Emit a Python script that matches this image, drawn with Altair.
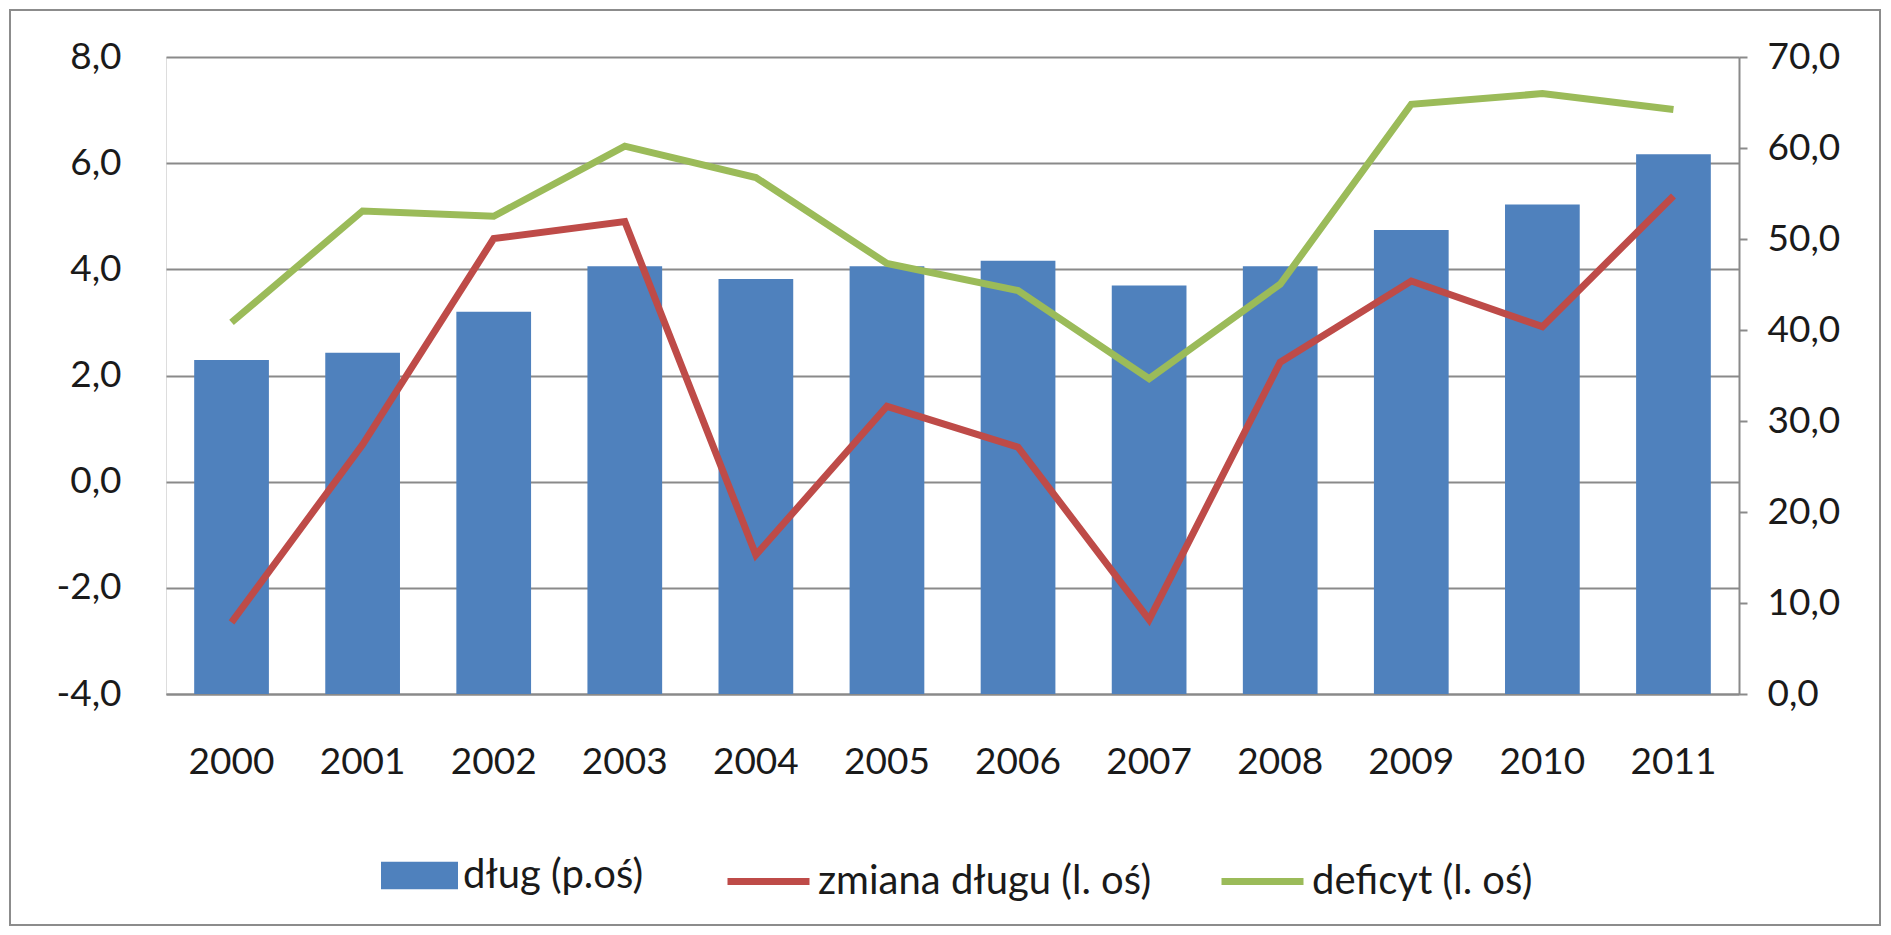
import altair as alt
import pandas as pd

years = [str(y) for y in range(2000, 2012)]
dlug = [36.7, 37.5, 42.0, 47.0, 45.6, 47.0, 47.6, 44.9, 47.0, 51.0, 53.8, 59.3]
zmiana = [-2.65, 0.7, 4.58, 4.9, -1.38, 1.42, 0.65, -2.6, 2.25, 3.78, 2.92, 5.38]
deficyt = [3.0, 5.1, 5.0, 6.32, 5.73, 4.11, 3.6, 1.94, 3.72, 7.11, 7.31, 7.01]

left_ticks = [-4, -2, 0, 2, 4, 6, 8]
right_ticks = [0, 10, 20, 30, 40, 50, 60, 70]

lab_dlug = "dług (p.oś)"
lab_zm = "zmiana długu (l. oś)"
lab_def = "deficyt (l. oś)"

df = pd.DataFrame({"rok": years, "dlug": dlug, "zmiana": zmiana, "deficyt": deficyt})

FONT = "Lato"
FS = 37
LFS = 40
TXT = "#1a1a1a"
GRID = "#8a8a8a"
BLUE = "#4F81BD"
RED = "#BE4B48"
GREEN = "#9BBB59"
LBL = "replace(replace(format(datum.value, '.1f'), '.', ','), '\u2212', '-')"

W, H = 1573, 637
LEG_Y = 780

xenc = alt.X(
    "rok:N", sort=years,
    scale=alt.Scale(paddingInner=0.43, paddingOuter=0.215),
    axis=alt.Axis(title=None, labelAngle=0, labelFont=FONT, labelFontSize=FS,
                  labelColor=TXT, labelPadding=50, ticks=False,
                  domainColor=GRID, domainWidth=2, grid=False),
)

bars = alt.Chart(df).transform_calculate(s=f"'{lab_dlug}'").mark_bar(color=BLUE).encode(
    x=xenc,
    y=alt.Y("dlug:Q", scale=alt.Scale(domain=[0, 70], nice=False, zero=True),
            axis=alt.Axis(orient="right", values=right_ticks, grid=False, title=None,
                          labelExpr=LBL, labelFont=FONT, labelFontSize=FS, labelColor=TXT,
                          tickSize=8, tickColor=GRID, tickWidth=2, domainColor=GRID,
                          domainWidth=2, labelPadding=20)),
    fill=alt.Fill("s:N", scale=alt.Scale(domain=[lab_dlug], range=[BLUE]),
                  legend=alt.Legend(orient="none", legendX=215, legendY=LEG_Y, title=None,
                                    direction="horizontal", padding=0, labelLimit=0,
                                    symbolType="M-1,-0.36L1,-0.36L1,0.36L-1,0.36Z",
                                    symbolSize=5929, symbolStrokeWidth=0, symbolOpacity=1,
                                    labelFont=FONT, labelFontSize=LFS, labelColor=TXT,
                                    labelOffset=5)),
)

yscale = alt.Scale(domain=[-4, 8], nice=False, zero=False)
yaxis = alt.Axis(orient="left", values=left_ticks, grid=True, gridColor=GRID, gridWidth=2,
                 ticks=False, domain=False, title=None, labelExpr=LBL, labelFont=FONT,
                 labelFontSize=FS, labelColor=TXT, labelPadding=45)

red = alt.Chart(df).transform_calculate(s=f"'{lab_zm}'").mark_line(strokeWidth=7).encode(
    x=xenc,
    y=alt.Y("zmiana:Q", scale=yscale, axis=yaxis),
    stroke=alt.Stroke("s:N", scale=alt.Scale(domain=[lab_zm], range=[RED]),
                      legend=alt.Legend(orient="none", legendX=558, legendY=LEG_Y, title=None,
                                        direction="horizontal", padding=0, labelLimit=0,
                                        symbolType="stroke", symbolSize=6724,
                                        symbolStrokeWidth=7, labelFont=FONT,
                                        labelFontSize=LFS, labelColor=TXT, labelOffset=5)),
)

green = alt.Chart(df).transform_calculate(s=f"'{lab_def}'").mark_line(strokeWidth=7).encode(
    x=xenc,
    y=alt.Y("deficyt:Q", scale=yscale, axis=yaxis),
    color=alt.Color("s:N", scale=alt.Scale(domain=[lab_def], range=[GREEN]),
                    legend=alt.Legend(orient="none", legendX=1052, legendY=LEG_Y, title=None,
                                      direction="horizontal", padding=0, labelLimit=0,
                                      symbolType="stroke", symbolSize=6724,
                                      symbolStrokeWidth=7, labelFont=FONT,
                                      labelFontSize=LFS, labelColor=TXT, labelOffset=5)),
)

frame = alt.Chart(pd.DataFrame({"f": [0]})).mark_rect(
    filled=False, stroke="#8c8c8c", strokeWidth=2
).encode(x=alt.value(-156), x2=alt.value(1714), y=alt.value(-47), y2=alt.value(868))

lines = alt.layer(red, green)

chart = alt.layer(frame, bars, lines).resolve_scale(
    y="independent", fill="independent", stroke="independent", color="independent"
).properties(
    width=W, height=H,
    autosize=alt.AutoSizeParams(type="none"),
    padding={"left": 158, "top": 49, "right": 142, "bottom": 232},
).configure_view(stroke=None).configure(background="white")

chart.save("out.html", embed_options={"renderer": "svg", "actions": False})
